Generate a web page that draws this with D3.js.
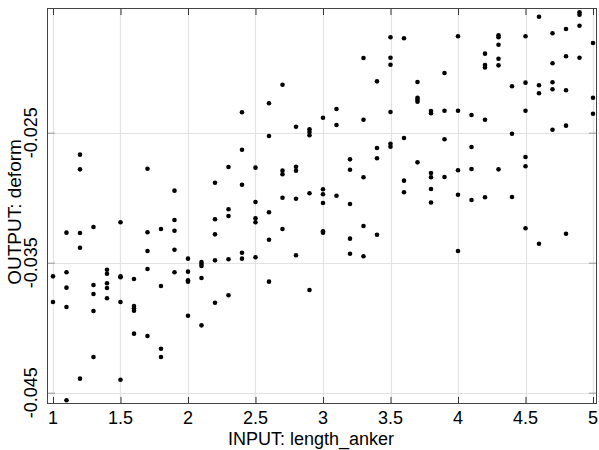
<!DOCTYPE html>
<html>
<head>
<meta charset="utf-8">
<script src="https://cdnjs.cloudflare.com/ajax/libs/d3/7.8.5/d3.min.js"></script>
<style>
  body { margin: 0; background: #fff; }
  text { font-family: "Liberation Sans", Arial, sans-serif; fill: #000; }
</style>
</head>
<body>
<div id="chart"></div>
<script>
'use strict';

// length_anker levels (one column of samples each)
const lengthLevels = [1.0, 1.1, 1.2, 1.3, 1.4, 1.5, 1.6, 1.7, 1.8, 1.9,
    2.0, 2.1, 2.2, 2.3, 2.4, 2.5, 2.6, 2.7, 2.8, 2.9,
    3.0, 3.1, 3.2, 3.3, 3.4, 3.5, 3.6, 3.7, 3.8, 3.9,
    4.0, 4.1, 4.2, 4.3, 4.4, 4.5, 4.6, 4.7, 4.8, 4.9, 5.0];

// deform outputs for each level
const deformByLevel = [
    [-0.03605, -0.03802],
    [-0.03269, -0.03574, -0.03692, -0.03841, -0.04558],
    [-0.02669, -0.02782, -0.03272, -0.03385, -0.04392],
    [-0.03225, -0.03672, -0.03741, -0.03872, -0.04225],
    [-0.03554, -0.03585, -0.03658, -0.03695, -0.03774],
    [-0.03189, -0.03605, -0.03612, -0.03802, -0.04400],
    [-0.03625, -0.03833, -0.03851, -0.03869, -0.04046],
    [-0.02777, -0.03266, -0.03410, -0.03548, -0.04064],
    [-0.03241, -0.03679, -0.04162, -0.04225],
    [-0.02946, -0.03172, -0.03254, -0.03400, -0.03574],
    [-0.03469, -0.03569, -0.03635, -0.03646, -0.03908],
    [-0.03495, -0.03510, -0.03525, -0.03618, -0.03982],
    [-0.02885, -0.03166, -0.03282, -0.03482, -0.03808],
    [-0.02764, -0.03089, -0.03141, -0.03474, -0.03751],
    [-0.02343, -0.02631, -0.02900, -0.03423, -0.03469],
    [-0.02769, -0.03033, -0.03158, -0.03189, -0.03458],
    [-0.02274, -0.02525, -0.03112, -0.03323, -0.03646],
    [-0.02131, -0.02792, -0.02820, -0.03000, -0.03241],
    [-0.02454, -0.02762, -0.02792, -0.03008, -0.03443],
    [-0.02474, -0.02495, -0.02520, -0.02966, -0.03710],
    [-0.02385, -0.02935, -0.02974, -0.03041, -0.03258, -0.03269],
    [-0.02318, -0.02441, -0.02985],
    [-0.02705, -0.02785, -0.03048, -0.03315, -0.03431],
    [-0.01925, -0.02400, -0.02843, -0.03218, -0.03451],
    [-0.02105, -0.02618, -0.02697, -0.03285],
    [-0.01766, -0.01923, -0.01977, -0.02341, -0.02585, -0.02608],
    [-0.01774, -0.02541, -0.02869, -0.02958],
    [-0.02110, -0.02231, -0.02246, -0.02262, -0.02728],
    [-0.02333, -0.02351, -0.02810, -0.02843, -0.02933, -0.03037],
    [-0.02041, -0.02331, -0.02551, -0.02841],
    [-0.01758, -0.02331, -0.02789, -0.02977, -0.03410],
    [-0.02364, -0.02610, -0.02779, -0.03018],
    [-0.01892, -0.01979, -0.01998, -0.02400, -0.02997],
    [-0.01751, -0.01766, -0.01823, -0.01931, -0.01982, -0.02782],
    [-0.02143, -0.02508, -0.02995],
    [-0.01758, -0.02115, -0.02331, -0.02687, -0.02758, -0.03235],
    [-0.01608, -0.02135, -0.02197, -0.03354],
    [-0.01735, -0.01966, -0.02112, -0.02166, -0.02477],
    [-0.01702, -0.01912, -0.02174, -0.02446, -0.03277],
    [-0.01574, -0.01592, -0.01677, -0.01923],
    [-0.01810, -0.02231, -0.02354]
];

const xTicks = [1, 1.5, 2, 2.5, 3, 3.5, 4, 4.5, 5];
const xTickLabels = ["1", "1.5", "2", "2.5", "3", "3.5", "4", "4.5", "5"];
const yTicks = [-0.045, -0.035, -0.025];
const yTickLabels = ["-0.045", "-0.035", "-0.025"];

const xTitle = "INPUT: length_anker";
const yTitle = "OUTPUT: deform";

var margin = { top: 8, right: 2, bottom: 46, left: 47 },
    width = 599 - margin.left - margin.right,
    height = 450 - margin.top - margin.bottom;

var points = [];
lengthLevels.forEach(function (lv, i) {
    deformByLevel[i].forEach(function (v) { points.push([lv, v]); });
});

var x = d3.scaleLinear()
    .domain([0.9556, 5.0296])
    .range([0, width]);

var y = d3.scaleLinear()
    .domain([-0.04587, -0.015408])
    .range([height, 0]);

var svg = d3.select("#chart").append("svg")
    .attr("width", width + margin.left + margin.right)
    .attr("height", height + margin.top + margin.bottom);

var g = svg.append("g")
    .attr("transform", "translate(" + margin.left + "," + margin.top + ")");

// grid
g.append("g")
    .selectAll("line.vx")
    .data(xTicks)
    .join("line")
    .attr("x1", d => Math.round(x(d)) + 0.5)
    .attr("x2", d => Math.round(x(d)) + 0.5)
    .attr("y1", 0)
    .attr("y2", height)
    .style("stroke", "#e3e3e3")
    .style("stroke-width", "1.2px");

g.append("g")
    .selectAll("line.hy")
    .data(yTicks)
    .join("line")
    .attr("x1", 0)
    .attr("x2", width)
    .attr("y1", d => Math.round(y(d)) + 0.5)
    .attr("y2", d => Math.round(y(d)) + 0.5)
    .style("stroke", "#e3e3e3")
    .style("stroke-width", "1.2px");

// inward ticks on all four sides
var xBottom = d3.axisBottom(x).tickValues(xTicks).tickSizeInner(-7).tickSizeOuter(0).tickFormat("");
var xTop = d3.axisTop(x).tickValues(xTicks).tickSizeInner(-7).tickSizeOuter(0).tickFormat("");
var yLeft = d3.axisLeft(y).tickValues(yTicks).tickSizeInner(-8).tickSizeOuter(0).tickFormat("");
var yRight = d3.axisRight(y).tickValues(yTicks).tickSizeInner(-8).tickSizeOuter(0).tickFormat("");

[[xBottom, "translate(0," + height + ")", "#333"],
 [xTop, null, "#333"],
 [yLeft, null, "#999"],
 [yRight, "translate(" + width + ",0)", "#999"]].forEach(function (a) {
    var ax = g.append("g").call(a[0]);
    if (a[1]) ax.attr("transform", a[1]);
    ax.select(".domain").remove();
    ax.selectAll("line").style("stroke", a[2]);
});

// border
g.append("rect")
    .attr("x", 0.5)
    .attr("y", 0.5)
    .attr("width", width - 1)
    .attr("height", height - 1)
    .style("fill", "none")
    .style("stroke", "#444")
    .style("stroke-width", "1px");

// points
g.append("g")
    .selectAll("circle")
    .data(points)
    .join("circle")
    .attr("cx", d => x(d[0]))
    .attr("cy", d => y(d[1]))
    .attr("r", 2.3)
    .style("fill", "#000");

// tick labels
g.append("g")
    .selectAll("text")
    .data(xTicks)
    .join("text")
    .attr("x", d => x(d))
    .attr("y", height + 20)
    .attr("text-anchor", "middle")
    .style("font-size", "18px")
    .text((d, i) => xTickLabels[i]);

g.append("g")
    .selectAll("text")
    .data(yTicks)
    .join("text")
    .attr("transform", d => "translate(-10," + y(d) + ") rotate(-90)")
    .attr("text-anchor", "middle")
    .style("font-size", "18px")
    .text((d, i) => yTickLabels[i]);

// axis titles
svg.append("text")
    .attr("x", 311)
    .attr("y", 444.5)
    .attr("text-anchor", "middle")
    .style("font-size", "18px")
    .text(xTitle);

svg.append("text")
    .attr("transform", "translate(21,212) rotate(-90)")
    .attr("text-anchor", "middle")
    .style("font-size", "19px")
    .text(yTitle);
</script>
</body>
</html>
